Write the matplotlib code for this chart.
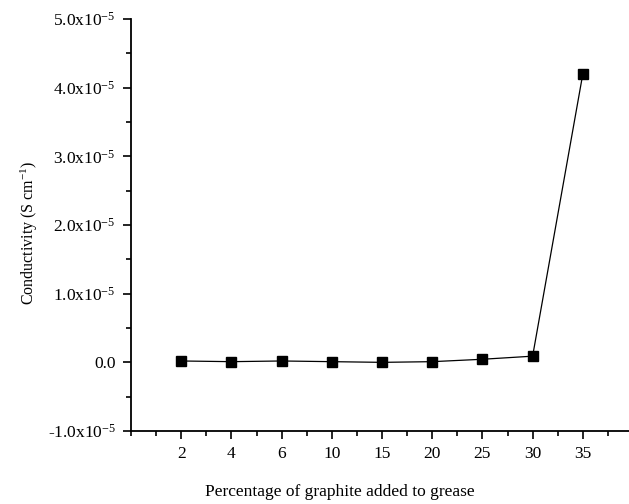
import numpy as np
import matplotlib.pyplot as plt
from matplotlib.ticker import FixedLocator, MultipleLocator

plt.rcParams['font.family'] = 'Liberation Serif'
plt.rcParams['mathtext.fontset'] = 'custom'
plt.rcParams['mathtext.rm'] = 'Liberation Serif'
plt.rcParams['mathtext.it'] = 'Liberation Serif'

# data
percent = ["2", "4", "6", "10", "15", "20", "25", "30", "35"]
conductivity = [2e-7, 1e-7, 2e-7, 1e-7, 0.0, 1e-7, 4.5e-7, 9e-7, 4.2e-5]
ytick_vals = [-1e-5, 0.0, 1e-5, 2e-5, 3e-5, 4e-5, 5e-5]
ytick_labels = ["-1.0x10$^{-5}$", "0.0", "1.0x10$^{-5}$", "2.0x10$^{-5}$",
                "3.0x10$^{-5}$", "4.0x10$^{-5}$", "5.0x10$^{-5}$"]

fig = plt.figure(figsize=(6.29, 5.04), dpi=100)
ax = fig.add_axes([0.2083, 0.1448, 0.7917, 0.8175])

xpos = np.arange(1, len(percent) + 1)
ax.plot(xpos, conductivity, color='black', lw=0.9, marker='s', ms=7,
        markerfacecolor='black', markeredgecolor='black')

ax.set_xlim(0, 9.92)
ax.set_ylim(-1e-5, 5e-5)

ax.xaxis.set_major_locator(FixedLocator(xpos))
ax.set_xticklabels(percent)
ax.xaxis.set_minor_locator(MultipleLocator(0.5))
ax.yaxis.set_major_locator(FixedLocator(ytick_vals))
ax.set_yticklabels(ytick_labels)
ax.yaxis.set_minor_locator(MultipleLocator(0.5e-5))

ax.spines['top'].set_visible(False)
ax.spines['right'].set_visible(False)
for s in ['left', 'bottom']:
    ax.spines[s].set_linewidth(1.3)

ax.tick_params(which='major', direction='out', length=6, width=1.2,
               labelsize=12.5, pad=5)
ax.tick_params(which='minor', direction='out', length=3.5, width=1.2)

# axis titles (placed like the original, x title sits left of the axis centre)
fig.text(340 / 629, 1 - 492 / 504, "Percentage of graphite added to grease",
         fontsize=12.5, ha='center', va='center')
fig.text(29 / 629, 1 - 233 / 504, "Conductivity (S cm$^{-1}$)",
         fontsize=11.5, rotation=90, ha='center', va='center')

fig.savefig("out.png", dpi=100)
